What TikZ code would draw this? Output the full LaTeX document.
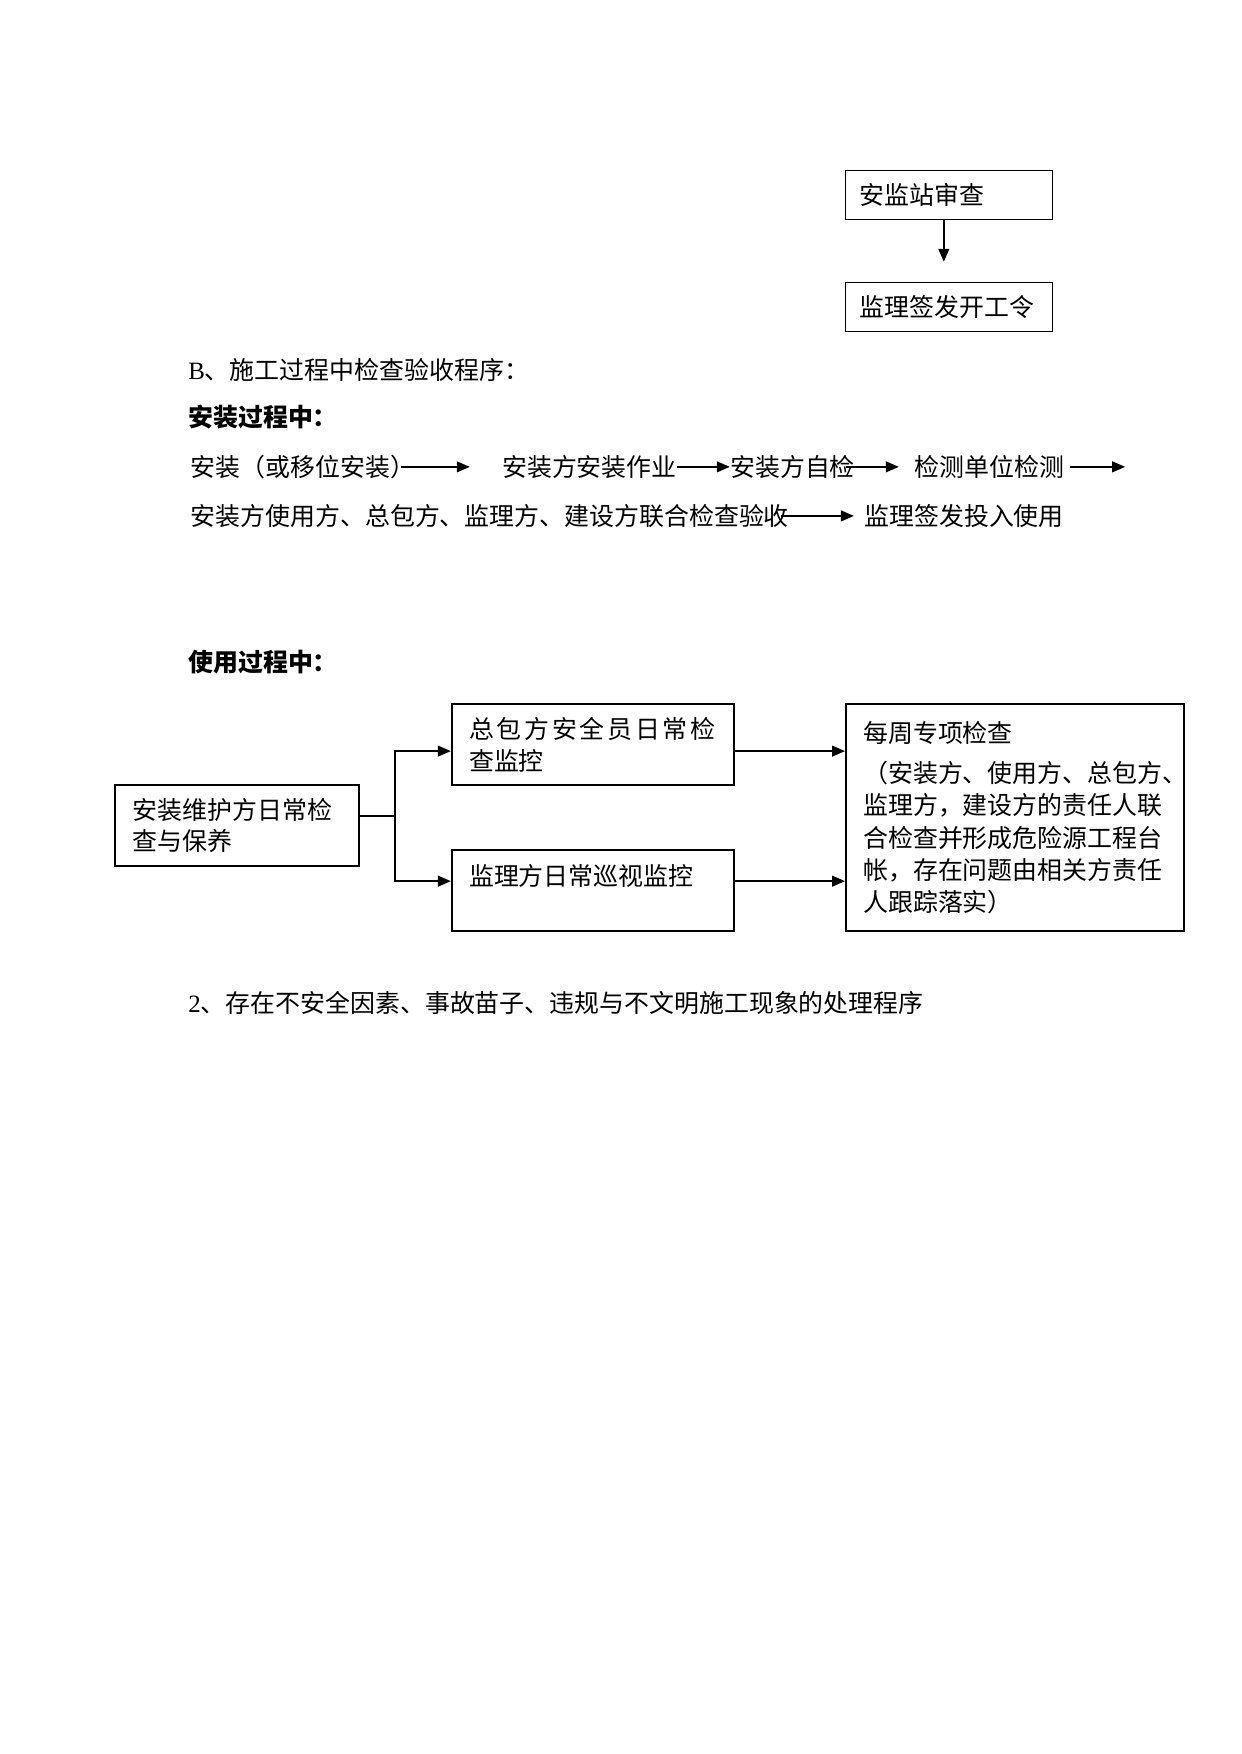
\documentclass[tikz,border=0pt]{standalone}
\usepackage{fontspec}
\setmainfont{Liberation Serif}
\newfontfamily\cjk{Noto Sans CJK SC}
\newfontfamily\cjkwide[LetterSpace=11]{Noto Sans CJK SC}
\usetikzlibrary{positioning,arrows.meta,calc}
\tikzset{
  flowarrow/.style={-{Triangle[length=2.2mm,width=1.8mm]}, line width=1pt},
  stepbox/.style={draw, line width=0.6pt, anchor=north west, minimum width=3.5cm, minimum height=0.83cm, inner xsep=0.24cm, inner ysep=0pt, text width=3.02cm, align=left},
  flowbox/.style={draw, line width=1pt, anchor=north west, inner xsep=0.29cm, inner ysep=0pt, align=left},
  plainline/.style={anchor=west, inner sep=0pt},
  headline/.style={anchor=west, inner sep=0pt, font=\fontsize{12}{15}\selectfont\cjk\bfseries}
}

\begin{document}
\begin{tikzpicture}[every node/.style={font=\fontsize{12}{15}\selectfont\cjk}]
  \useasboundingbox (0,0) rectangle (21.0,-29.68);

  % approval before start
  \node[stepbox] (review) at (14.30,-2.88) {安监站审查};
  \node[stepbox] (permit) at (14.30,-4.77) {监理签发开工令};
  \draw[flowarrow, shorten >=0.34cm] ([xshift=-0.09cm]review.south) -- ([xshift=-0.09cm]permit.north);

  % B: installation
  \node[plainline] (secB) at (3.18,-6.26) {{\rmfamily B}、施工过程中检查验收程序：};
  \node[headline] (install) at (3.18,-7.06) {安装过程中：};

  \node[plainline] (mount) at (3.22,-7.90) {安装（或移位安装）};
  \node[plainline] (work) at (8.49,-7.90) {安装方安装作业};
  \node[plainline] (self) at (12.35,-7.90) {安装方自检};
  \node[plainline] (test) at (15.47,-7.90) {检测单位检测};
  \coordinate (wrap) at (19.04,-7.90);
  \node[plainline] (joint) at (3.22,-8.73) {安装方使用方、总包方、监理方、建设方联合检查验收};
  \node[plainline] (use) at (14.62,-8.73) {监理签发投入使用};

  \draw[flowarrow, shorten <=-0.25cm, shorten >=0.54cm] (mount) -- (work);
  \draw[flowarrow] (work) -- (self);
  \draw[flowarrow, shorten <=-0.16cm, shorten >=0.26cm] (self) -- (test);
  \draw[flowarrow, shorten <=0.09cm] (test) -- (wrap);
  \draw[flowarrow, shorten <=-0.14cm, shorten >=0.17cm] (joint) -- (use);

  % in use
  \node[headline] (usage) at (3.18,-11.20) {使用过程中：};
  \node[flowbox, minimum width=4.13cm, minimum height=1.37cm, text width=3.53cm] (keep) at (1.93,-13.27) {安装维护方日常检\\查与保养};
  \node[flowbox, minimum width=4.77cm, minimum height=1.37cm, text width=4.19cm] (daily) at (7.63,-11.90) {{\cjkwide 总包方安全员日常检}\\查监控};
  \node[flowbox, minimum width=4.77cm, minimum height=1.37cm, text width=4.19cm] (patrol) at (7.63,-14.37) {监理方日常巡视监控\\\mbox{}};
  \node[flowbox, minimum width=5.72cm, minimum height=3.84cm, text width=5.14cm, font=\fontsize{12}{15.6}\selectfont\cjk] (weekly) at (14.30,-11.90)
    {每周专项检查\\[3.7pt]（安装方、使用方、总包方、\\监理方，建设方的责任人联\\合检查并形成危险源工程台\\帐，存在问题由相关方责任\\人跟踪落实）};

  \coordinate (split) at (6.68,-13.81);
  \coordinate (upper) at (0,-12.71);
  \coordinate (lower) at (0,-14.91);
  \draw[line width=1pt] (keep.east |- split) -- (split);
  \draw[flowarrow] (split) |- (daily.west |- upper);
  \draw[flowarrow] (split) |- (patrol.west |- lower);
  \draw[flowarrow] (daily.east |- upper) -- (weekly.west |- upper);
  \draw[flowarrow] (patrol.east |- lower) -- (weekly.west |- lower);

  \node[plainline] (sec2) at (3.18,-16.97) {{\rmfamily 2}、存在不安全因素、事故苗子、违规与不文明施工现象的处理程序};
\end{tikzpicture}
\end{document}
